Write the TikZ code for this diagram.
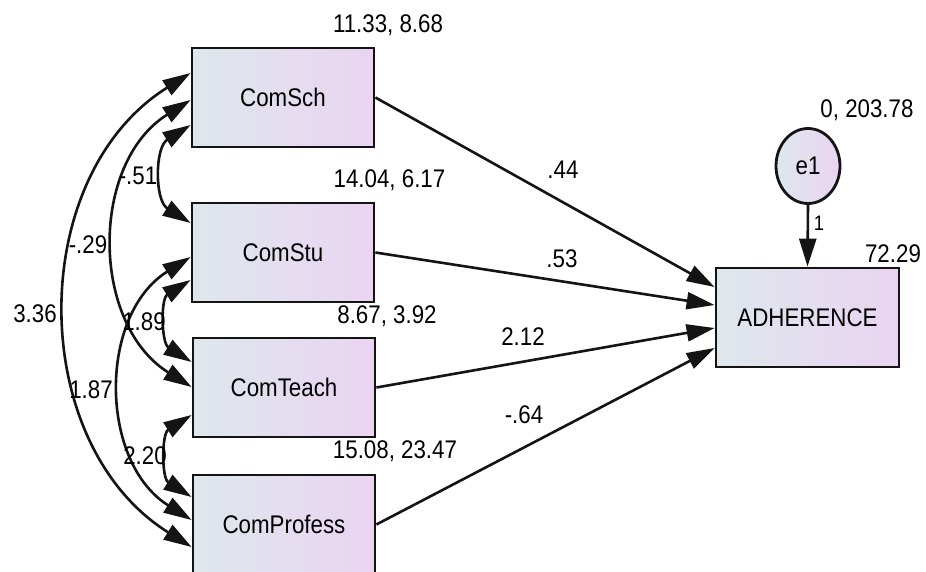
\documentclass[tikz,border=0pt]{standalone}
\usepackage{fontspec}
\setmainfont[FakeStretch=0.875]{Liberation Sans}
\usetikzlibrary{arrows.meta,shapes.geometric}
\definecolor{boxL}{RGB}{222,231,236}
\definecolor{boxR}{RGB}{234,212,242}
\definecolor{edgecol}{RGB}{20,20,20}
\begin{document}
\begin{tikzpicture}[x=1pt,y=1pt,
  var/.style={draw=edgecol, line width=2.8pt, left color=boxL, right color=boxR,
    minimum width=182pt, minimum height=99pt, inner sep=0pt,
    font=\fontsize{25.5}{30}\selectfont},
  num/.style={anchor=base, inner sep=0pt, font=\fontsize{25.5}{30}\selectfont},
  regarrow/.style={line width=2.6pt, draw=edgecol, -{Triangle[length=28pt,width=17pt]}},
  cov/.style={line width=2.6pt, draw=edgecol,
    {Triangle[length=28pt,width=17pt]}-{Triangle[length=28pt,width=17pt]},
    out=212, in=148, looseness=1.11}
]
\fill[white] (0,0) rectangle (926,-572);
\useasboundingbox (0,0) rectangle (926,-572);

% variables
\node[var] (sch) at (283,-97.5) {ComSch};
\node[var] (stu) at (283,-252.5) {ComStu};
\node[var] (teach) at (284,-387.5) {ComTeach};
\node[var] (prof) at (284,-524.5) {ComProfess};
\node[var, minimum width=183pt] (adh) at (807.5,-317.5) {ADHERENCE};
\node[ellipse, draw=edgecol, line width=2.8pt, left color=boxL, right color=boxR,
  minimum width=64pt, minimum height=75pt, inner sep=0pt,
  font=\fontsize{25.5}{30}\selectfont] (e1) at (808,-166) {e1};

% covariances
\draw[cov] ([yshift=-27.5pt]sch.west) to ([yshift=29.5pt]stu.west);
\draw[cov] ([yshift=-27.5pt]stu.west) to ([yshift=25.5pt]teach.west);
\draw[cov] ([yshift=-27.5pt]teach.west) to ([yshift=27.5pt]prof.west);
\draw[cov, looseness=1.06] ([yshift=-2.5pt]sch.west) to ([yshift=0.5pt]teach.west);
\draw[cov, looseness=1.06] ([yshift=-4.5pt]stu.west) to ([yshift=4.5pt]prof.west);
\draw[cov, looseness=1.05] ([yshift=24.5pt]sch.west) to ([yshift=-22.5pt]prof.west);

% regressions
\draw[regarrow] (sch.east) -- ([yshift=30.5pt]adh.west);
\draw[regarrow] (stu.east) -- ([yshift=12.5pt]adh.west);
\draw[regarrow] (teach.east) -- ([yshift=-10.5pt]adh.west);
\draw[regarrow] (prof.east) -- ([yshift=-30.5pt]adh.west);
\draw[regarrow] (e1.south) -- (adh.north);

% estimates
\node[num] (l1) at (388,-33) {11.33, 8.68};
\node[num] (l2) at (389.5,-188) {14.04, 6.17};
\node[num] (l3) at (387,-323) {8.67, 3.92};
\node[num] (l4) at (395,-458) {15.08, 23.47};
\node[num] (l5) at (867,-118) {0, 203.78};
\node[num] (l6) at (893,-262) {72.29};
\node[num] (p1) at (563,-179) {.44};
\node[num] (p2) at (562,-267) {.53};
\node[num] (p3) at (523,-345) {2.12};
\node[num] (p4) at (524,-423) {-.64};
\node[num] (c1) at (138,-185) {-.51};
\node[num] (c2) at (88,-253) {-.29};
\node[num] (c3) at (35,-322) {3.36};
\node[num] (c4) at (144,-330) {1.89};
\node[num] (c5) at (91,-398) {1.87};
\node[num] (c6) at (145,-464) {2.20};
\node[num, font=\fontsize{21}{24}\selectfont] (one) at (819,-230) {1};
\end{tikzpicture}
\end{document}
